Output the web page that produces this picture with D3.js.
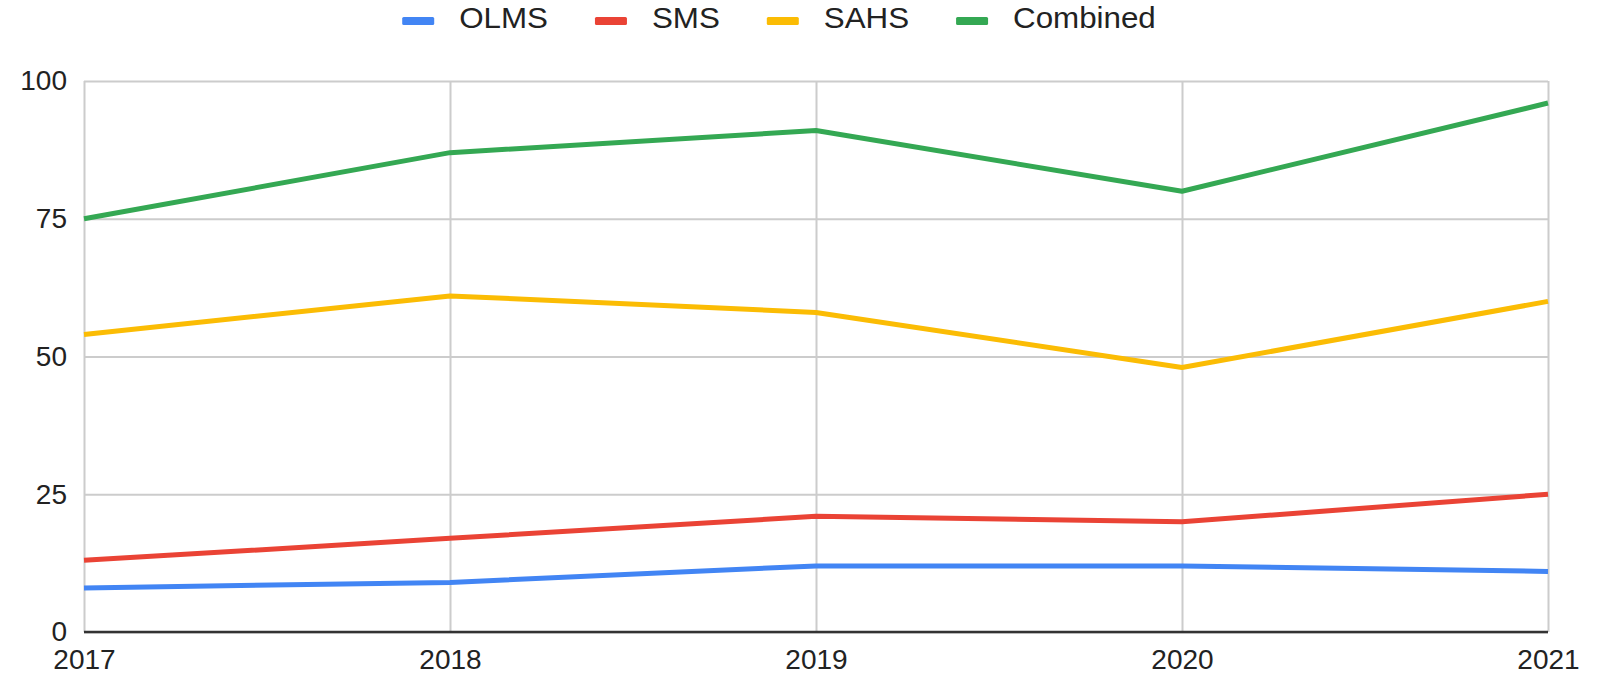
<!DOCTYPE html>
<html lang="en">
<head>
    <meta charset="UTF-8">
    <title>Line Chart</title>
    <script src="https://d3js.org/d3.v7.min.js"></script>
    <style>
        html, body { margin: 0; padding: 0; background: #fff; }
        svg text { font-family: 'Liberation Sans', Arial, sans-serif; fill: #222; }
    </style>
</head>
<body>
    <div id="chart"></div>

    <script>
        // Data
        const years = [2017, 2018, 2019, 2020, 2021];
        const olms = [8, 9, 12, 12, 11];
        const sms = [13, 17, 21, 20, 25];
        const sahs = [54, 61, 58, 48, 60];
        const combined = [75, 87, 91, 80, 96];
        const yTicks = [0, 25, 50, 75, 100];
        const seriesNames = ['OLMS', 'SMS', 'SAHS', 'Combined'];
        const seriesColors = ['#4285f4', '#ea4335', '#fbbc04', '#34a853'];

        const width = 1599, height = 676;
        const margin = { top: 81, right: 51, bottom: 44, left: 84 };
        const innerW = width - margin.left - margin.right;
        const innerH = height - margin.top - margin.bottom;

        const svg = d3.select('#chart').append('svg')
            .attr('width', width)
            .attr('height', height);

        const g = svg.append('g')
            .attr('transform', `translate(${margin.left}, ${margin.top})`);

        const x = d3.scaleLinear().domain(d3.extent(years)).range([0, innerW]);
        const y = d3.scaleLinear().domain([0, 100]).range([innerH, 0]);

        // Grid lines
        g.append('g')
            .call(d3.axisLeft(y).tickValues(yTicks).tickSize(-innerW).tickFormat(''))
            .call(a => a.select('.domain').remove())
            .selectAll('line').attr('stroke', '#cccccc').attr('stroke-width', 2);

        g.append('g')
            .call(d3.axisBottom(x).tickValues(years).tickSize(innerH).tickFormat(''))
            .call(a => a.select('.domain').remove())
            .selectAll('line').attr('stroke', '#cccccc').attr('stroke-width', 2);

        // Y tick labels
        const yAxis = g.append('g')
            .call(d3.axisLeft(y).tickValues(yTicks).tickSize(0).tickPadding(17).tickFormat(d3.format('d')));
        yAxis.select('.domain').remove();
        yAxis.selectAll('text').style('font-size', '28px').attr('fill', '#222');

        // X tick labels
        const xAxis = g.append('g')
            .attr('transform', `translate(0, ${innerH})`)
            .call(d3.axisBottom(x).tickValues(years).tickSize(0).tickPadding(17).tickFormat(d3.format('d')));
        xAxis.select('.domain').remove();
        xAxis.selectAll('text').style('font-size', '28px').attr('fill', '#222');

        // Baseline
        g.append('line')
            .attr('x1', 0).attr('x2', innerW)
            .attr('y1', y(0)).attr('y2', y(0))
            .attr('stroke', '#333').attr('stroke-width', 2.5);

        // Lines
        const allSeries = [olms, sms, sahs, combined];
        const line = d3.line()
            .x((d, i) => x(years[i]))
            .y(d => y(d));

        allSeries.forEach((vals, i) => {
            g.append('path')
                .datum(vals)
                .attr('fill', 'none')
                .attr('stroke', seriesColors[i])
                .attr('stroke-width', 5)
                .attr('stroke-linejoin', 'round')
                .attr('d', line);
        });

        // Legend
        const legend = svg.append('g');
        const sx = 1.08;
        let cx = 0;
        seriesNames.forEach((name, i) => {
            const item = legend.append('g').attr('transform', `translate(${cx}, 0)`);
            item.append('rect')
                .attr('x', 0).attr('y', 17)
                .attr('width', 32).attr('height', 8)
                .attr('rx', 1.5)
                .attr('fill', seriesColors[i]);
            const t = item.append('text')
                .attr('transform', `translate(57, 28) scale(${sx}, 1)`)
                .style('font-size', '29px')
                .text(name);
            cx += 57 + t.node().getComputedTextLength() * sx + 47;
        });
        const legendW = cx - 47;
        legend.attr('transform', `translate(${779 - legendW / 2}, 0)`);
    </script>
</body>
</html>
